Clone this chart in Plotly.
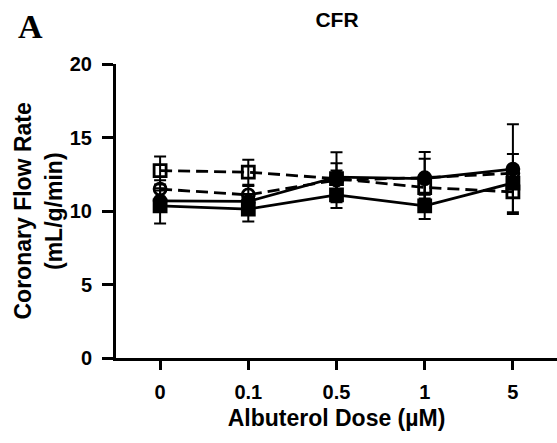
import plotly.graph_objects as go

doses = ["0", "0.1", "0.5", "1", "5"]

open_sq = [12.75, 12.64, 12.2, 11.6, 11.3]
open_sq_err = [0.95, 0.85, 1.05, 0.5, 0.4]

open_circ = [11.49, 11.1, 12.1, 12.27, 12.57]
open_circ_err = [0.6, 0.6, 0.65, 1.75, 0.5]

filled_up = [10.69, 10.65, 12.3, 12.2, 12.85]
filled_up_err = [0.7, 0.5, 1.7, 1.35, 3.05]

filled_low = [10.35, 10.13, 11.1, 10.35, 11.9]
filled_low_err = [1.2, 0.85, 0.9, 0.9, 1.98]

y_title_lines = ["Coronary Flow Rate", "(mL/g/min)"]

series = [
    (open_sq, open_sq_err, "square-open", "dash"),
    (open_circ, open_circ_err, "circle-open", "dash"),
    (filled_low, filled_low_err, "square", "solid"),
    (filled_up, filled_up_err, "circle", "solid"),
]

fig = go.Figure()
for vals, errs, sym, dash in series:
    fig.add_trace(go.Scatter(
        x=doses, y=vals, mode="lines+markers",
        line=dict(color="black", width=2.8, dash="solid" if dash == "solid" else "12px,6px"),
        marker=dict(symbol=sym, size=12, color="black",
                    line=dict(color="black", width=2.8)),
        error_y=dict(type="data", array=errs, visible=True, color="black",
                     thickness=2, width=6),
        showlegend=False,
    ))

ff = "Arial, Liberation Sans, sans-serif"
fig.update_layout(
    width=557, height=443,
    margin=dict(l=116, r=0, t=64, b=85),
    plot_bgcolor="white", paper_bgcolor="white",
    font=dict(family=ff, color="black"),
    title=dict(text="CFR", x=337 / 557, xanchor="center", y=1 - 20 / 443, yanchor="middle",
               font=dict(size=21, family=ff, weight="bold")),
    xaxis=dict(
        type="category", range=[-0.5, 4.5],
        showline=True, linecolor="black", linewidth=3,
        ticks="outside", ticklen=9, tickwidth=3, tickcolor="black",
        tickfont=dict(size=20, family=ff, weight="bold"),
        ticklabelstandoff=5,
        title=dict(text="Albuterol Dose (µM)", font=dict(size=23, family=ff, weight="bold"), standoff=8),
        showgrid=False, zeroline=False,
    ),
    yaxis=dict(
        range=[0, 20], tickvals=[0, 5, 10, 15, 20],
        showline=True, linecolor="black", linewidth=3,
        ticks="outside", ticklen=11, tickwidth=3, tickcolor="black",
        tickfont=dict(size=20, family=ff, weight="bold"),
        ticklabelstandoff=6,
        showgrid=False, zeroline=False,
    ),
)
for line_text, px_x in zip(y_title_lines, [22.5, 54]):
    fig.add_annotation(text=line_text, xref="paper", yref="paper",
                       x=(px_x - 116) / 441, y=0.5, xanchor="center", yanchor="middle",
                       textangle=-90, showarrow=False,
                       font=dict(size=23, family=ff, weight="bold", color="black"))
fig.add_annotation(text="A", xref="paper", yref="paper", x=(30.5 - 116) / 441, y=1 + (64 - 26) / 294.5,
                   xanchor="center", yanchor="middle", showarrow=False,
                   font=dict(family="Liberation Serif, Times New Roman, serif", size=34, color="black", weight="bold"))

fig.write_html("out.html")
